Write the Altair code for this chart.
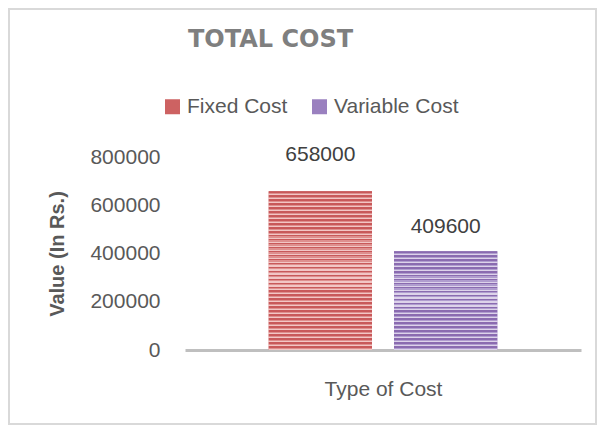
import altair as alt
import pandas as pd

# ---- data ----
categories = ["Fixed Cost", "Variable Cost"]
values = [658000, 409600]
y_ticks = [0, 200000, 400000, 600000, 800000]
chart_title = "TOTAL COST"
x_title = "Type of Cost"
y_title = "Value (In Rs.)"

df = pd.DataFrame({"type": categories, "value": values})

FONT = "Liberation Sans"
TXT = "#595959"
W, H = 396, 193
SOLID = ["#cd6262", "#9a80bf"]
STRIPE = {
    "Fixed Cost": ("#c8595a", "#de8f8e", "#f2c6c5", 40),
    "Variable Cost": ("#8a6bb0", "#b09dcf", "#ddd3ea", 25),
}


def stripes(dark, mid, light, n):
    stops = []
    for i in range(n):
        a = i / n
        b = (i + 0.4) / n
        c = (i + 0.7) / n
        d = (i + 1) / n
        stops += [
            alt.GradientStop(offset=a, color=dark),
            alt.GradientStop(offset=b, color=dark),
            alt.GradientStop(offset=b, color=mid),
            alt.GradientStop(offset=c, color=mid),
            alt.GradientStop(offset=c, color=light),
            alt.GradientStop(offset=d, color=light),
        ]
    return alt.LinearGradient(gradient="linear", stops=stops, x1=0, x2=0, y1=0, y2=1)


x = alt.X(
    "type:N",
    sort=categories,
    scale=alt.Scale(paddingInner=0.176, paddingOuter=0.668),
    axis=alt.Axis(
        title=x_title, labels=False, ticks=False,
        domainColor="#bfbfbf", domainWidth=3,
        titleFont=FONT, titleFontSize=21, titleFontWeight="normal",
        titleColor=TXT, titlePadding=28,
    ),
)
y = alt.Y(
    "value:Q",
    scale=alt.Scale(domain=[0, 800000], nice=False),
    axis=alt.Axis(
        values=y_ticks, format="d", title=y_title, grid=False, domain=False,
        ticks=False, labelPadding=25, labelFont=FONT, labelFontSize=21,
        labelColor=TXT, titleFont=FONT, titleFontSize=20, titleFontWeight="bold",
        titleColor=TXT, titlePadding=22,
    ),
)
color = alt.Color(
    "type:N",
    sort=categories,
    scale=alt.Scale(domain=categories, range=SOLID),
    legend=alt.Legend(
        title=None, orient="none", legendX=-23, legendY=-61,
        direction="horizontal", symbolType="square", symbolSize=225,
        symbolStrokeWidth=0, labelFont=FONT, labelFontSize=21, labelColor=TXT,
        labelOffset=4, columnPadding=21, padding=0, labelLimit=300,
    ),
)

base = alt.Chart(df)
bars = base.mark_bar().encode(x=x, y=y, color=color)

layers = [bars]
for cat in categories:
    dk, md, lt, n = STRIPE[cat]
    layers.append(
        base.transform_filter(alt.datum.type == cat)
        .mark_bar(fill=stripes(dk, md, lt, n))
        .encode(x=alt.X("type:N", sort=categories), y="value:Q")
    )

label_dy = {"Fixed Cost": -30, "Variable Cost": -18}
for cat in categories:
    layers.append(
        base.transform_filter(alt.datum.type == cat)
        .mark_text(font=FONT, fontSize=21, color="#404040", baseline="alphabetic", dy=label_dy[cat])
        .encode(x=alt.X("type:N", sort=categories), y="value:Q", text=alt.Text("value:Q", format="d"))
    )

border = alt.Chart(alt.Data(values=[{}])).mark_rect(
    filled=False, stroke="#d9d9d9", strokeWidth=2
).encode(
    x=alt.value(-176), x2=alt.value(W + 15), y=alt.value(-148), y2=alt.value(H + 74)
)

chart = alt.layer(border, *layers).properties(
    width=W,
    height=H,
    title=alt.TitleParams(
        text=chart_title, anchor="start", dx=180, dy=44, font="DejaVu Sans", fontSize=24,
        fontWeight="bold", color="#7f7f7f", offset=0,
    ),
    autosize=alt.AutoSizeParams(type="none"),
    padding={"left": 177, "top": 149, "right": 16, "bottom": 75},
).configure_view(stroke=None)

chart.save("out.html", embed_options={"renderer": "svg", "actions": False})
